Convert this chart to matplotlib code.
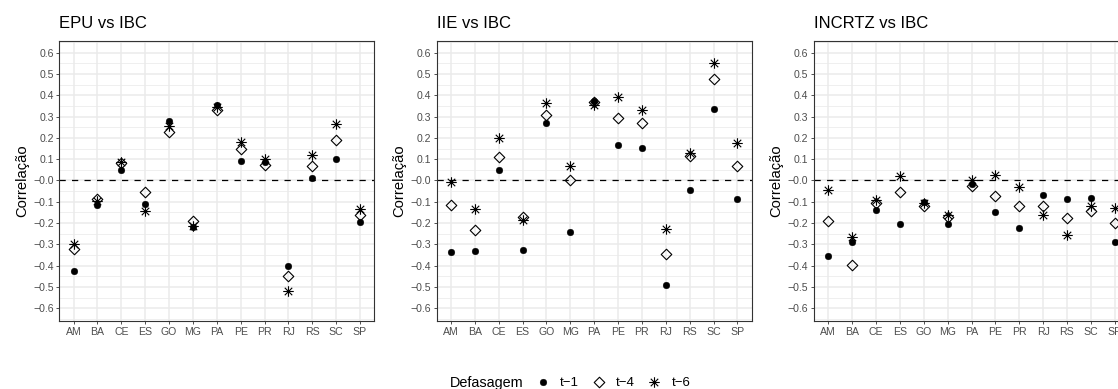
import matplotlib
matplotlib.use("Agg")
import matplotlib.pyplot as plt
from matplotlib.path import Path
from matplotlib.lines import Line2D
import numpy as np

plt.rcParams['font.family'] = ['Liberation Sans', 'DejaVu Sans']

estados = ['AM', 'BA', 'CE', 'ES', 'GO', 'MG', 'PA', 'PE', 'PR', 'RJ', 'RS', 'SC', 'SP']
titulos = ['EPU vs IBC', 'IIE vs IBC', 'INCRTZ vs IBC']
rotulos = ['t\u22121', 't\u22124', 't\u22126']

# correlacoes por defasagem (t-1, t-4, t-6)
epu_t1 = [-0.427, -0.117, 0.047, -0.110, 0.280, -0.219, 0.355, 0.090, 0.089, -0.400, 0.011, 0.103, -0.197]
epu_t4 = [-0.320, -0.087, 0.081, -0.052, 0.228, -0.190, 0.330, 0.150, 0.072, -0.447, 0.070, 0.188, -0.163]
epu_t6 = [-0.300, -0.095, 0.089, -0.142, 0.256, -0.213, 0.344, 0.183, 0.100, -0.519, 0.119, 0.266, -0.134]

iie_t1 = [-0.336, -0.333, 0.047, -0.327, 0.272, -0.240, 0.373, 0.167, 0.152, -0.492, -0.047, 0.334, -0.089]
iie_t4 = [-0.117, -0.234, 0.112, -0.170, 0.306, 0.000, 0.367, 0.295, 0.272, -0.347, 0.117, 0.478, 0.069]
iie_t6 = [-0.009, -0.134, 0.200, -0.184, 0.366, 0.070, 0.356, 0.390, 0.331, -0.228, 0.128, 0.550, 0.178]

inc_t1 = [-0.356, -0.289, -0.140, -0.203, -0.100, -0.203, -0.017, -0.150, -0.222, -0.070, -0.089, -0.084, -0.290]
inc_t4 = [-0.190, -0.398, -0.106, -0.056, -0.122, -0.172, -0.028, -0.075, -0.119, -0.122, -0.177, -0.145, -0.200]
inc_t6 = [-0.047, -0.266, -0.090, 0.019, -0.105, -0.160, 0.003, 0.027, -0.031, -0.160, -0.256, -0.122, -0.131]

paineis = [(epu_t1, epu_t4, epu_t6), (iie_t1, iie_t4, iie_t6), (inc_t1, inc_t4, inc_t6)]

# marcadores estilo ggplot
diamante = Path([(0, 1), (1, 0), (0, -1), (-1, 0), (0, 1)],
                [Path.MOVETO, Path.LINETO, Path.LINETO, Path.LINETO, Path.CLOSEPOLY])
r = np.sqrt(0.5)
asterisco = Path([(0, -1), (0, 1), (-1, 0), (1, 0), (-r, -r), (r, r), (-r, r), (r, -r)],
                 [Path.MOVETO, Path.LINETO] * 4)

estilos = [
    dict(marker='o', ms=4.8, mfc='black', mec='black', mew=0.3),
    dict(marker=diamante, ms=7.6, mfc='none', mec='black', mew=0.8),
    dict(marker=asterisco, ms=7.6, mfc='none', mec='black', mew=0.8),
]

W, H = 1118, 389
fig = plt.figure(figsize=(W / 100, H / 100), dpi=100)
lefts = [59.3, 436.7, 814.0]
top, bottom, largura = 41, 321, 315

x = np.arange(len(estados))
for i, (left, titulo, series) in enumerate(zip(lefts, titulos, paineis)):
    ax = fig.add_axes([left / W, 1 - bottom / H, largura / W, (bottom - top) / H])
    ax.set_xlim(-0.6, len(estados) - 0.4)
    ax.set_ylim(-0.66, 0.655)
    ax.set_yticks(np.round(np.arange(-0.6, 0.61, 0.1), 2))
    ax.set_yticks(np.arange(-0.65, 0.66, 0.1), minor=True)
    ax.set_xticks(x)
    ax.set_xticklabels(estados)
    ax.yaxis.set_major_formatter(plt.FuncFormatter(lambda v, p: f'{v:.1f}'.replace('-', '\u2212')))
    ax.grid(True, which='major', color='#EBEBEB', lw=1.1)
    ax.grid(True, which='minor', axis='y', color='#EBEBEB', lw=0.55)
    ax.set_axisbelow(True)
    ax.tick_params(axis='both', which='major', labelsize=7.6, colors='#333333',
                   labelcolor='#4D4D4D', length=2.5, width=0.6, pad=1.5)
    ax.tick_params(axis='y', which='minor', length=0)
    for s in ax.spines.values():
        s.set_color('#333333')
        s.set_linewidth(0.8)
    ax.axhline(0, color='black', ls=(0, (5, 5)), lw=0.9, zorder=1.5)
    for vals, est in zip(series, estilos):
        ax.plot(x, vals, ls='none', zorder=3, **est)
    ax.set_ylabel('Correla\u00e7\u00e3o', fontsize=10.6, labelpad=3)
    ax.set_title(titulo, loc='left', fontsize=12, pad=9)

fig.text(450 / W, 2.5 / H, 'Defasagem', fontsize=10.4, ha='left', va='baseline')
handles = [Line2D([], [], ls='none', **est) for est in estilos]
fig.legend(handles, rotulos, loc='center left', bbox_to_anchor=(535.4 / W, 6 / H),
           ncol=3, frameon=False, fontsize=9.5, handlelength=1.1, handletextpad=0.75,
           columnspacing=0.95, borderpad=0, borderaxespad=0)

fig.savefig('out.png', dpi=100)
